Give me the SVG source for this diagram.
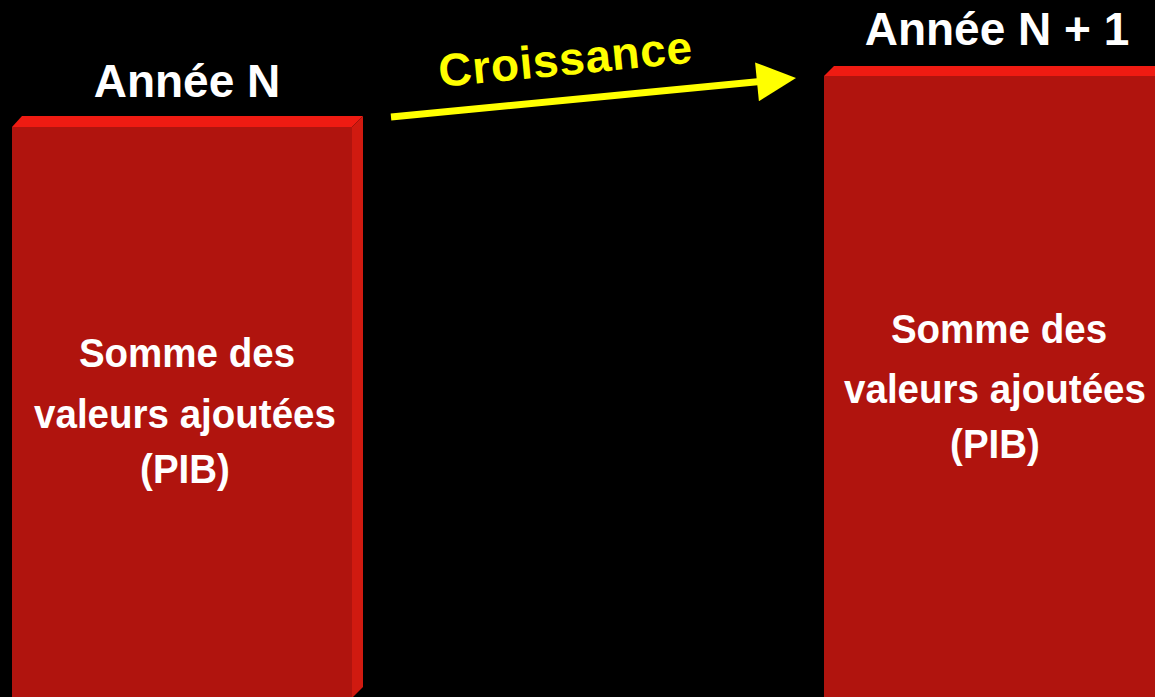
<svg xmlns="http://www.w3.org/2000/svg" width="1155" height="697" viewBox="0 0 1155 697">
<style>
.front{fill:#B0140E}
.top{fill:#EF1B12}
.side{fill:#D01A10}
.lbl{font-family:"Liberation Sans",Arial,sans-serif;font-weight:bold;fill:#FFFFFF;text-anchor:middle}
.big{font-size:46px}
.body{font-size:41px}
.grow{font-family:"Liberation Sans",Arial,sans-serif;font-weight:bold;fill:#FFFF00;font-size:46px;letter-spacing:0.7px}
</style>
<rect width="1155" height="697" fill="#000000"/>
<g id="box-n">
<rect class="front" x="12" y="127" width="340" height="580"/>
<polygon class="top" points="12,127 22,116 363,116 352,127"/>
<polygon class="side" points="352,127 363,116 363,687 352,698"/>
<text class="lbl body" transform="translate(187 367) scale(0.94 1)">Somme des</text>
<text class="lbl body" transform="translate(185 428) scale(0.94 1)">valeurs ajoutées</text>
<text class="lbl body" transform="translate(185 483) scale(0.94 1)">(PIB)</text>
</g>
<g id="label-n">
<text class="lbl big" x="187" y="97">Année N</text>
</g>
<g id="box-n1">
<rect class="front" x="824" y="76" width="340" height="630"/>
<polygon class="top" points="824,76 834,66 1170,66 1160,76"/>
<text class="lbl body" transform="translate(999 343) scale(0.94 1)">Somme des</text>
<text class="lbl body" transform="translate(995 403) scale(0.94 1)">valeurs ajoutées</text>
<text class="lbl body" transform="translate(995 458) scale(0.94 1)">(PIB)</text>
</g>
<g id="label-n1">
<text class="lbl big" x="997" y="45">Année N + 1</text>
</g>
<g id="connectors">
<line x1="391" y1="117" x2="760" y2="81.5" stroke="#FFFF00" stroke-width="7"/>
<polygon points="796,78 758.9,101.2 755.1,62.4" fill="#FFFF00"/>
<text class="grow" x="440" y="87" transform="rotate(-5.5 440 87)">Croissance</text>
</g>
</svg>
